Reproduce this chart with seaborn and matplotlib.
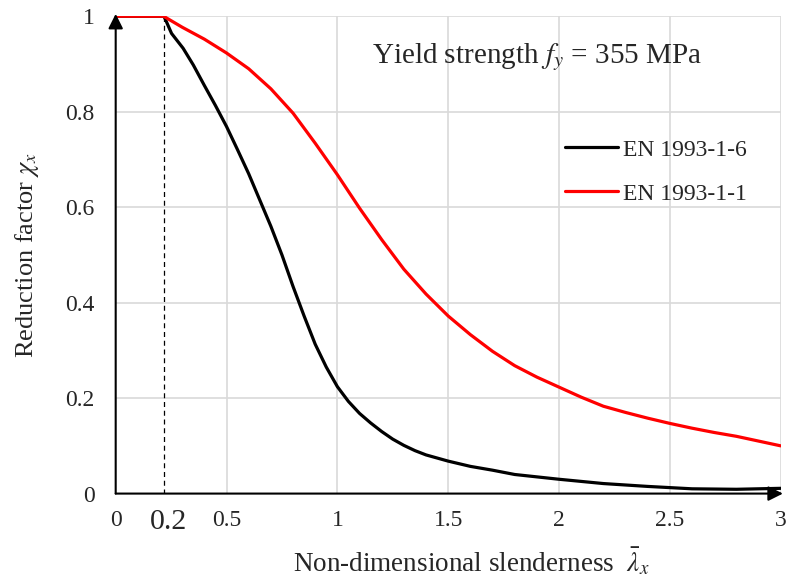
import matplotlib
matplotlib.use("Agg")
import matplotlib.pyplot as plt
from matplotlib.lines import Line2D
import seaborn as sns
import pandas as pd

# EN 1993-1-6 (black)
x_en6 = [0.0, 0.1, 0.218, 0.252, 0.304, 0.35, 0.4, 0.45, 0.5, 0.55, 0.6, 0.65, 0.7,
         0.75, 0.8, 0.85, 0.9, 0.95, 1.0, 1.05, 1.1, 1.15, 1.2, 1.25, 1.3, 1.35,
         1.4, 1.5, 1.6, 1.7, 1.8, 1.9, 2.0, 2.2, 2.4, 2.6, 2.8, 3.0]
y_en6 = [1.0, 1.0, 1.0, 0.964, 0.933, 0.898, 0.855, 0.813, 0.769, 0.72, 0.67, 0.615,
         0.56, 0.5, 0.434, 0.372, 0.313, 0.265, 0.224, 0.193, 0.168, 0.148, 0.13,
         0.114, 0.101, 0.09, 0.081, 0.068, 0.057, 0.049, 0.04, 0.035, 0.03, 0.021,
         0.015, 0.01, 0.009, 0.011]

# EN 1993-1-1 (red)
x_en1 = [0.0, 0.1, 0.216, 0.3, 0.4, 0.5, 0.6, 0.7, 0.8, 0.9, 1.0, 1.1, 1.2, 1.3,
         1.4, 1.5, 1.6, 1.7, 1.8, 1.9, 2.0, 2.1, 2.2, 2.3, 2.4, 2.5, 2.6, 2.7, 2.8,
         2.9, 3.0]
y_en1 = [1.0, 1.0, 1.0, 0.977, 0.952, 0.923, 0.89, 0.848, 0.797, 0.734, 0.668, 0.598,
         0.532, 0.47, 0.418, 0.372, 0.333, 0.298, 0.268, 0.244, 0.223, 0.202, 0.183,
         0.17, 0.158, 0.147, 0.137, 0.128, 0.12, 0.11, 0.1]

x_ticks = [0, 0.5, 1, 1.5, 2, 2.5, 3]
x_labels = ["0", "0.5", "1", "1.5", "2", "2.5", "3"]
y_ticks = [0, 0.2, 0.4, 0.6, 0.8, 1]
y_labels = ["0", "0.2", "0.4", "0.6", "0.8", "1"]
lam0 = 0.22

sns.set_style("white")
plt.rcParams['font.family'] = ['Liberation Serif', 'DejaVu Serif']
plt.rcParams['mathtext.fontset'] = 'stix'

df = pd.concat([
    pd.DataFrame({"x": x_en6, "y": y_en6, "code": "EN 1993-1-6"}),
    pd.DataFrame({"x": x_en1, "y": y_en1, "code": "EN 1993-1-1"}),
])
colors = {"EN 1993-1-6": "black", "EN 1993-1-1": "#ff0000"}

fig = plt.figure(figsize=(7.87, 5.8), dpi=100)
ax = fig.add_axes([0.147, 0.149, 0.845, 0.823])

for v in x_ticks[1:]:
    ax.axvline(v, color="#d9d9d9", lw=1.2, zorder=0)
for v in y_ticks[1:]:
    ax.axhline(v, color="#d9d9d9", lw=1.2, zorder=0)

sns.lineplot(data=df, x="x", y="y", hue="code", palette=colors, lw=2.3,
             sort=False, legend=False, ax=ax, zorder=3,
             solid_joinstyle="round", solid_capstyle="round")

ax.plot([lam0, lam0], [0, 1], color="black", ls=(0, (4, 3)), lw=0.9, zorder=2)

ax.set_xlim(0, 3)
ax.set_ylim(0, 1)
for s in ax.spines.values():
    s.set_visible(False)

# axes drawn as arrows
ax.annotate("", xy=(0, 1.005), xytext=(0, 0), xycoords="data",
            arrowprops=dict(arrowstyle="-|>", color="black", lw=1.5,
                            mutation_scale=22, shrinkA=0, shrinkB=0),
            annotation_clip=False, zorder=5)
ax.annotate("", xy=(3.01, 0), xytext=(0, 0), xycoords="data",
            arrowprops=dict(arrowstyle="-|>", color="black", lw=1.5,
                            mutation_scale=22, shrinkA=0, shrinkB=0),
            annotation_clip=False, zorder=5)

ax.set_xticks(x_ticks)
ax.set_xticklabels(x_labels)
ax.set_yticks(y_ticks)
ax.set_yticklabels(y_labels)
ax.tick_params(axis="both", length=0, labelsize=17)
ax.tick_params(axis="x", pad=12)
ax.tick_params(axis="y", pad=15)
ax.text(0.239, -0.06, "0.2", fontsize=21.5, ha="center", va="center",
        transform=ax.transData, clip_on=False)

ax.set_xlabel(r"Non-dimensional slenderness  $\bar{\lambda}_x$", fontsize=19.5,
              va="center")
ax.xaxis.set_label_coords(0.535, -0.143)
ax.set_ylabel(r"Reduction factor $\chi_x$", fontsize=19, va="center")
ax.yaxis.set_label_coords(-0.133, 0.5)

ax.text(1.155, 0.915, r"Yield strength $f_y$ = 355 MPa", fontsize=21, va="center")

handles = [Line2D([], [], color=colors[k], lw=2.3) for k in colors]
ax.legend(handles, list(colors), loc="center left", bbox_to_anchor=(0.661, 0.674),
          frameon=False, fontsize=17, handlelength=2.25, handletextpad=0.2,
          labelspacing=0.95, borderaxespad=0)

fig.savefig("out.png", dpi=100)
